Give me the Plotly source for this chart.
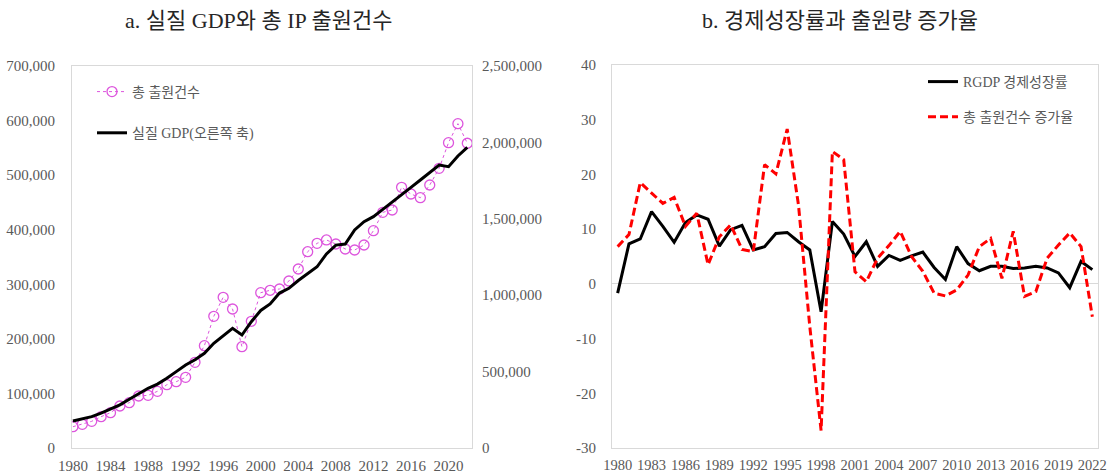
import plotly.graph_objects as go

W, H = 1112, 475

# ---- data ----
years = list(range(1980, 2023))

# total IP applications (left axis)
ip_apps = [39000, 43400, 48900, 57400, 64700, 77000, 83000, 95300, 96500, 103900,
           116000, 121500, 129500, 157000, 187500, 241300, 276100, 254700, 185600, 232200,
           284600, 289000, 291400, 306000, 328000, 359700, 375100, 381200, 373800, 364700,
           362800, 372000, 398200, 431900, 436100, 477700, 465400, 458700, 481900, 512500,
           559500, 594300, 558400]

# real GDP (right axis)
real_gdp = [176700, 189000, 205000, 228000, 253000, 282000, 318700, 354000, 390700, 418000,
            456000, 500000, 543000, 578000, 619600, 685000, 733000, 783000, 739500, 826700,
            900000, 942400, 1014000, 1045000, 1096000, 1140000, 1186000, 1270000, 1328000, 1335000,
            1427000, 1481000, 1514000, 1562000, 1612000, 1656000, 1706000, 1754000, 1802000, 1852000,
            1841000, 1911000, 1968000]

# growth rates (%)
gdp_growth = [-1.7, 7.3, 8.2, 13.2, 10.5, 7.6, 11.2, 12.6, 11.8, 6.9,
              9.9, 10.7, 6.2, 6.8, 9.2, 9.4, 7.7, 6.2, -5.1, 11.4,
              9.1, 5.0, 7.7, 3.2, 5.2, 4.3, 5.1, 5.8, 3.0, 0.8,
              6.8, 3.7, 2.4, 3.2, 3.2, 2.8, 2.9, 3.2, 2.9, 2.0,
              -0.7, 4.1, 2.6]
ip_growth = [6.8, 9.0, 18.5, 16.6, 14.7, 15.8, 10.5, 12.9, 3.5, 8.6,
             10.8, 6.3, 5.9, 21.8, 20.1, 28.3, 14.4, -7.8, -26.8, 24.2,
             22.7, 2.2, 0.4, 4.7, 7.0, 9.6, 5.0, 2.3, -1.7, -2.2,
             -1.1, 1.6, 6.8, 8.3, 1.0, 9.6, -2.3, -1.4, 4.7, 7.1,
             9.3, 6.8, -6.0]

left_xticks = list(range(1980, 2021, 4))
right_xticks = list(range(1980, 2023, 3))
rate_ticks = [-30, -20, -10, 0, 10, 20, 30, 40]
rate_labels = ["-30", "-20", "-10", "0", "10", "20", "30", "40"]

PINK = "#dd55dd"
GREY = "#595959"
BORDER = "#d9d9d9"
SERIF = "Liberation Serif, Noto Sans CJK KR"


def px_x(p):
    return p / W


def px_y(p):
    return 1 - p / H


fig = go.Figure()

fig.add_trace(go.Scatter(
    x=years, y=ip_apps, name="총 출원건수", mode="lines+markers",
    line=dict(color=PINK, width=1, dash="dot"),
    marker=dict(symbol="circle-open", size=10, color=PINK, line=dict(width=1.3)),
    xaxis="x", yaxis="y", legend="legend", legendgroup="a1",
))
fig.add_trace(go.Scatter(
    x=years, y=real_gdp, name="실질 GDP(오른쪽 축)", mode="lines",
    line=dict(color="black", width=3),
    xaxis="x", yaxis="y2", legend="legend", legendgroup="a2",
))
fig.add_trace(go.Scatter(
    x=years, y=gdp_growth, name="RGDP 경제성장률", mode="lines",
    line=dict(color="black", width=3),
    xaxis="x2", yaxis="y3", legend="legend2", legendgroup="b1",
))
fig.add_trace(go.Scatter(
    x=years, y=ip_growth, name="총 출원건수 증가율", mode="lines",
    line=dict(color="#ff0000", width=3, dash="8px,4px"),
    xaxis="x2", yaxis="y3", legend="legend2", legendgroup="b2",
))

axis_common = dict(showgrid=False, showline=True, linecolor=BORDER, linewidth=1,
                   ticks="", tickfont=dict(family=SERIF, size=15, color=GREY),
                   automargin=False, zeroline=False)

fig.update_layout(
    width=W, height=H,
    margin=dict(l=0, r=0, t=0, b=0),
    plot_bgcolor="white", paper_bgcolor="white",
    showlegend=True,
    xaxis=dict(axis_common, domain=[px_x(72), px_x(472)], range=[1979.9, 2022.5],
               tickvals=left_xticks, mirror=True, anchor="y", ticklabelstandoff=4),
    yaxis=dict(axis_common, domain=[px_y(448), px_y(66)], range=[0, 700000],
               dtick=100000, tickformat=",", mirror=True, anchor="x",
               ticklabelstandoff=13),
    yaxis2=dict(axis_common, overlaying="y", side="right", range=[0, 2500000],
                dtick=500000, tickformat=",", anchor="x", showline=False,
                ticklabelstandoff=9),
    xaxis2=dict(axis_common, domain=[px_x(612), px_x(1098)], range=[1979.5, 2022.5],
                tickvals=right_xticks, mirror=True, anchor="y3", ticklabelstandoff=4,
                tickfont=dict(family=SERIF, size=14.5, color=GREY)),
    yaxis3=dict(axis_common, domain=[px_y(448), px_y(65)], range=[-30, 40],
                tickvals=rate_ticks, ticktext=rate_labels, mirror=True, anchor="x2",
                zeroline=True, zerolinecolor=BORDER, zerolinewidth=1,
                ticklabelstandoff=12),
    legend=dict(x=px_x(92), y=px_y(76), xanchor="left", yanchor="top",
                bgcolor="rgba(0,0,0,0)", traceorder="grouped", tracegroupgap=20,
                font=dict(family=SERIF, size=14, color=GREY)),
    legend2=dict(x=px_x(923), y=px_y(66), xanchor="left", yanchor="top",
                 bgcolor="rgba(0,0,0,0)", traceorder="grouped", tracegroupgap=14,
                 font=dict(family=SERIF, size=14, color=GREY)),
    annotations=[
        dict(text="a. 실질 GDP와 총 IP 출원건수", x=px_x(258), y=px_y(20),
             xref="paper", yref="paper", xanchor="center", yanchor="middle",
             showarrow=False, font=dict(family=SERIF, size=22, color="#262626")),
        dict(text="b. 경제성장률과 출원량 증가율", x=px_x(840), y=px_y(20),
             xref="paper", yref="paper", xanchor="center", yanchor="middle",
             showarrow=False, font=dict(family=SERIF, size=22, color="#262626")),
    ],
)

# page has a default body margin; drop it so the figure fills the window
fig.write_html("out.html", config={"displayModeBar": False},
               post_script="document.body.style.margin='0px';")
